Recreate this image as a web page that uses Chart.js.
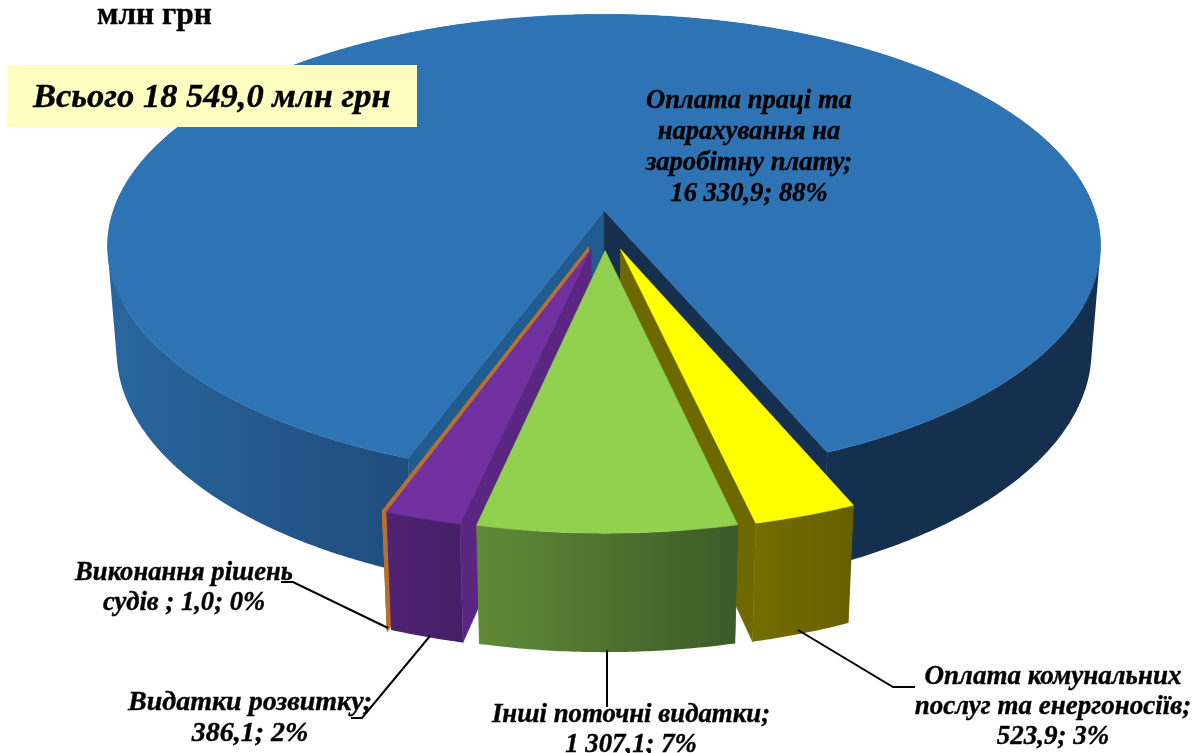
<!DOCTYPE html>
<html lang="uk">
<head>
<meta charset="utf-8">
<title>Структура видатків</title>
<style>html,body{margin:0;padding:0;background:#fff}canvas{display:block}</style>
<script src="https://cdn.jsdelivr.net/npm/chart.js@4"></script>
</head>
<body>
<canvas id="c" width="1194" height="753"></canvas>
<script>
const categories = ["Оплата праці та нарахування на заробітну плату","Оплата комунальних послуг та енергоносіїв","Інші поточні видатки","Видатки розвитку","Виконання рішень судів "];
const values = [16330.9, 523.9, 1307.1, 386.1, 1.0];
const valueLabels = ["16 330,9", "523,9", "1 307,1", "386,1", "1,0"];
const percentLabels = ["88%", "3%", "7%", "2%", "0%"];
const topColors = ["#2E74B5", "#FFFF00", "#92D050", "#7030A0", "#B8702F"];
const explode = [26, 36, 36, 36, 36];
const wallColors = [["#28679E","#215082","#1A3F66","#14304E","#14304E"],["#746D00","#665F00"],["#608B36","#3C5A28"],["#502373","#461E67"],["#B8702F","#B8702F"]];
const sideColors = [["#215C8F","#14304E"],["#6E6800","#6E6800"],["#3C5A28","#608B36"],["#5B2682","#5B2682"],["#B8702F","#B8702F"]];
const unitTitle = "млн грн";
const totalLabel = "Всього 18 549,0 млн грн";

// камера: перспективна проекція площини кругової діаграми
const cam = {cx:605, y0:210, a:225.8, b:490.5, p:0.152, c:105.7, q:0.018, z0:0.075};
function project(X, Z, Y){
  const zz = Z + cam.z0, w = 1 - cam.p*zz + cam.q*Y;
  return [cam.cx + cam.b*X/w, cam.y0 + (cam.a*zz + cam.c*Y)/w];
}
function poly(ctx, pts){
  pts.forEach((p,i)=> i ? ctx.lineTo(p[0],p[1]) : ctx.moveTo(p[0],p[1]));
  ctx.closePath();
}
function paint(ctx, pts, fill, edge){
  ctx.beginPath(); poly(ctx, pts);
  ctx.fillStyle = fill; ctx.fill();
  ctx.strokeStyle = edge || fill; ctx.lineWidth = edge ? 2 : 0.6; ctx.stroke();
}
function area(q){
  let s=0;
  q.forEach((p,i)=>{const r=q[(i+1)%q.length]; s+=p[0]*r[1]-r[0]*p[1];});
  return s;
}
function grad(ctx, pts, stops){
  const xs = pts.map(p=>p[0]);
  const g = ctx.createLinearGradient(Math.min(...xs),0,Math.max(...xs),0);
  stops.forEach((s,i)=>g.addColorStop(i/(stops.length-1),s));
  return g;
}

const pie3d = {
  id:'pie3d',
  beforeDatasetDraw(){ return false; },
  afterDatasetsDraw(chart){
    const ctx = chart.ctx, meta = chart.getDatasetMeta(0);
    const ccx = (chart.chartArea.left+chart.chartArea.right)/2;
    const ccy = (chart.chartArea.top+chart.chartArea.bottom)/2;
    const order = meta.data.map((el,i)=>{
      const mid=(el.startAngle+el.endAngle)/2; return {el,i,mid};
    }).sort((a,b)=>Math.sin(a.mid)-Math.sin(b.mid));
    ctx.save();
    for(const {el,i,mid} of order){
      const R = el.outerRadius, off = el.options.offset/R;
      const ox = (el.x-ccx)/R + Math.cos(mid)*off, oz = (el.y-ccy)/R + Math.sin(mid)*off;
      const n = Math.max(2, Math.ceil((el.endAngle-el.startAngle)/0.008));
      const top=[], bot=[];
      for(let k=0;k<=n;k++){
        const t = el.startAngle+(el.endAngle-el.startAngle)*k/n;
        top.push(project(ox+Math.cos(t), oz+Math.sin(t), 0));
        bot.push(project(ox+Math.cos(t), oz+Math.sin(t), 1));
      }
      const a0 = project(ox,oz,0), a1 = project(ox,oz,1);
      const edge = i===4 ? topColors[i] : null;
      // радіальні стінки
      paint(ctx,[a0,top[0],bot[0],a1],sideColors[i][0],edge);
      paint(ctx,[a0,top[n],bot[n],a1],sideColors[i][1],edge);
      // зовнішня стінка: один контур зі смужок однакової орієнтації
      const g = grad(ctx,top.concat(bot),wallColors[i]);
      ctx.beginPath();
      for(let k=0;k<n;k++){
        const q=[top[k],top[k+1],bot[k+1],bot[k]];
        if(area(q)<0) q.reverse();
        poly(ctx,q);
      }
      ctx.fillStyle=g; ctx.fill();
      if(edge){ ctx.strokeStyle=edge; ctx.lineWidth=2; ctx.stroke(); }
      // верхня грань
      paint(ctx,[a0].concat(top),topColors[i],edge);
    }
    ctx.restore();
    drawLabels(ctx);
  }
};

const labelLayout = [
  {lines:["Оплата праці та","нарахування на","заробітну плату;"], x:749, y:108, dy:31, size:26.6, lead:null},
  {lines:["Оплата комунальних","послуг та енергоносіїв;"], x:1053, y:684, dy:30, size:27, lead:[[798,630],[893,687],[915,687]]},
  {lines:["Інші поточні видатки;"], x:631, y:722, dy:30, size:26.8, lead:[[607,650],[607,707]]},
  {lines:["Видатки розвитку;"], x:250, y:710, dy:31, size:28, lead:[[351,718],[362,718],[430,636]]},
  {lines:["Виконання рішень","судів ;"], x:184, y:580, dy:30, size:26.6, lead:[[281,582],[293,582],[388,628]], inlineLast:true}
];
function heavyText(ctx,s,x,y){
  ctx.lineWidth=0.4; ctx.strokeStyle="#000";
  ctx.strokeText(s,x,y); ctx.fillText(s,x,y);
}
function drawLabels(ctx){
  ctx.save();
  ctx.strokeStyle="#000"; ctx.lineWidth=2;
  labelLayout.forEach(l=>{
    if(!l.lead) return;
    ctx.beginPath();
    l.lead.forEach((p,i)=> i?ctx.lineTo(p[0],p[1]):ctx.moveTo(p[0],p[1]));
    ctx.stroke();
  });
  ctx.fillStyle="#000"; ctx.textAlign="center"; ctx.textBaseline="alphabetic";
  labelLayout.forEach((l,i)=>{
    ctx.font="italic bold "+l.size+"px 'Liberation Serif'";
    const num = valueLabels[i]+"; "+percentLabels[i];
    const lines = l.inlineLast ? [l.lines[0], l.lines[1]+" "+num] : l.lines.concat([num]);
    lines.forEach((s,k)=>heavyText(ctx,s,l.x,l.y+k*l.dy));
  });
  ctx.font="bold 31.4px 'Liberation Serif'";
  ctx.textAlign="left";
  heavyText(ctx,unitTitle,97,24);
  ctx.fillStyle="#FFFFC1"; ctx.fillRect(7,65,410,62);
  ctx.fillStyle="#000";
  ctx.font="italic bold 34.5px 'Liberation Serif'";
  heavyText(ctx,totalLabel,33,107);
  ctx.restore();
}

new Chart(document.getElementById('c'),{
  type:'pie',
  data:{labels:categories,datasets:[{data:values,backgroundColor:topColors,borderWidth:0,offset:explode}]},
  options:{
    responsive:false,animation:false,rotation:200,
    layout:{padding:0},
    plugins:{legend:{display:false},tooltip:{enabled:false},title:{display:false}}
  },
  plugins:[pie3d]
});
</script>
</body>
</html>
